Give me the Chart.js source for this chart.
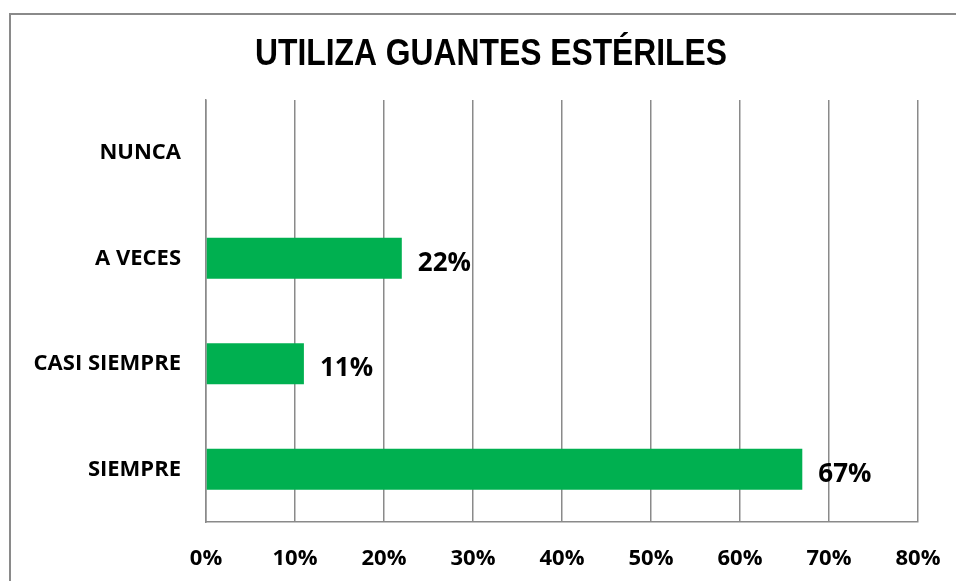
<!DOCTYPE html>
<html>
<head>
<meta charset="utf-8">
<script src="https://cdn.jsdelivr.net/npm/chart.js"></script>
<style>
  html, body { margin: 0; padding: 0; background: #fff; overflow: hidden; }
  #wrap { position: relative; width: 956px; height: 581px; }
  #frame { position: absolute; left: 9px; top: 13px; width: 1000px; height: 700px;
           border: 2px solid #8a8a8a; box-sizing: border-box; }
  canvas { position: absolute; left: 0; top: 0; }
</style>
</head>
<body>
<div id="wrap">
  <div id="frame"></div>
  <canvas id="myChart" width="956" height="581"></canvas>
</div>
<script>
// data
const categories = ['NUNCA', 'A VECES', 'CASI SIEMPRE', 'SIEMPRE'];
const values = [0, 22, 11, 67];
const xTicks = [0, 10, 20, 30, 40, 50, 60, 70, 80];
const titleText = 'UTILIZA GUANTES ESTÉRILES';

const labelFont = '"Open Sans", Lato, sans-serif';

// title drawn by hand so it can sit centred over the frame, narrow like the original
const chartTitle = {
    id: 'chartTitle',
    afterDraw(chart) {
        const ctx = chart.ctx;
        ctx.save();
        ctx.font = 'bold 36px "Liberation Sans", Arial, sans-serif';
        ctx.fillStyle = '#000';
        ctx.textAlign = 'center';
        ctx.textBaseline = 'middle';
        const w = ctx.measureText(titleText).width;
        const sx = 472 / w;
        ctx.translate(491, 55);
        ctx.scale(sx, 1);
        ctx.fillText(titleText, 0, 0);
        ctx.restore();
    }
};

// draws the "22%" style value next to each bar
const valueLabels = {
    id: 'valueLabels',
    afterDatasetsDraw(chart) {
        const ctx = chart.ctx;
        const meta = chart.getDatasetMeta(0);
        ctx.save();
        ctx.font = 'bold 26px ' + labelFont;
        ctx.fillStyle = '#000';
        ctx.textAlign = 'left';
        ctx.textBaseline = 'middle';
        meta.data.forEach((bar, i) => {
            if (!values[i]) return;
            ctx.fillText(values[i] + '%', bar.x + 16, bar.y + 5);
        });
        ctx.restore();
    }
};

const ctx = document.getElementById('myChart').getContext('2d');
const myChart = new Chart(ctx, {
    type: 'bar',
    data: {
        labels: categories,
        datasets: [{
            data: values,
            backgroundColor: '#00B050',
            borderWidth: 0,
            categoryPercentage: 1,
            barPercentage: 0.39
        }]
    },
    options: {
        indexAxis: 'y',
        responsive: false,
        animation: false,
        layout: { padding: { left: 0, right: 38, top: 100, bottom: 0 } },
        plugins: {
            legend: { display: false },
            tooltip: { enabled: false },
            title: { display: false }
        },
        scales: {
            x: {
                min: 0,
                max: 80,
                afterBuildTicks: (scale) => { scale.ticks = xTicks.map(v => ({ value: v })); },
                afterFit: (scale) => {
                    scale.height = 59;
                    scale.paddingLeft = 0;
                    scale.paddingRight = 0;
                },
                grid: { color: '#8a8a8a', lineWidth: 1.5, drawTicks: false },
                border: { color: '#8a8a8a', width: 1.5 },
                ticks: {
                    padding: 24,
                    color: '#000',
                    font: { family: labelFont, size: 22, weight: 'bold' },
                    callback: (v) => v + '%',
                    maxRotation: 0
                }
            },
            y: {
                afterFit: (scale) => { scale.width = 206; },
                grid: { display: false, drawTicks: false },
                border: { color: '#8a8a8a', width: 1.5 },
                ticks: {
                    padding: 25,
                    color: '#000',
                    font: { family: labelFont, size: 22, weight: 'bold' }
                }
            }
        }
    },
    plugins: [valueLabels, chartTitle]
});
</script>
</body>
</html>
